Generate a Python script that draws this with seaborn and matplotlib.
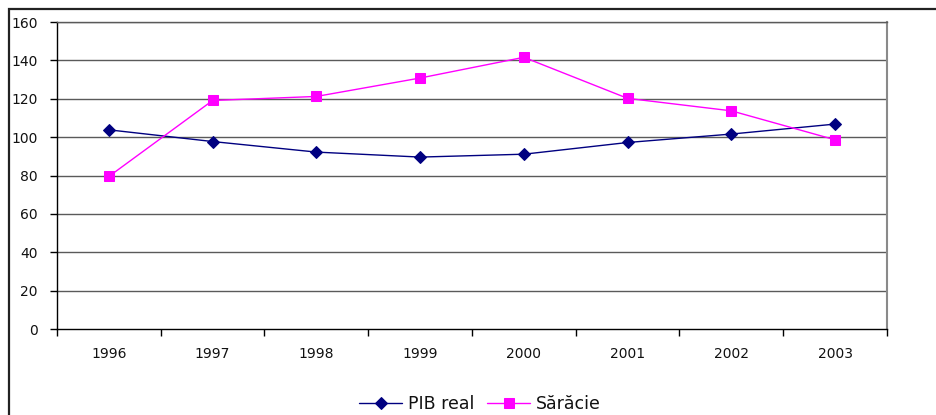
import pandas as pd
import matplotlib
matplotlib.use("Agg")
import matplotlib.pyplot as plt
import seaborn as sns
from matplotlib.patches import Rectangle

# -------------------------------------------------------------------
# Data
# -------------------------------------------------------------------
years = ["1996", "1997", "1998", "1999", "2000", "2001", "2002", "2003"]
pib_real = [103.8, 97.7, 92.2, 89.6, 91.1, 97.2, 101.6, 106.8]
saracie = [79.5, 119.1, 121.2, 130.8, 141.6, 120.2, 113.7, 98.6]
y_ticks = [0, 20, 40, 60, 80, 100, 120, 140, 160]

sns.set_theme(style="white")
plt.rcParams["font.family"] = ["DejaVu Sans"]

df = pd.DataFrame({"pos": range(len(years)), "PIB real": pib_real, "Sărăcie": saracie})

fig = plt.figure(figsize=(9.37, 4.15), dpi=100)
ax = fig.add_axes([57 / 937, 1 - 329 / 415, 830 / 937, 307 / 415])

# outer chart frame (only the left and top edges are visible)
fig.patches.append(Rectangle((9.5 / 937, -0.1), 1.2, 1 - 9.5 / 415 + 0.1,
                             transform=fig.transFigure, fill=False,
                             edgecolor="#222222", linewidth=1.6))

for y in y_ticks[1:]:
    ax.axhline(y, color="#5a5a5a", linewidth=1.0, zorder=0)

sns.lineplot(data=df, x="pos", y="PIB real", ax=ax, color="#000080",
             marker="D", markersize=6.5, markeredgecolor="#000080",
             linewidth=1.0, label="PIB real")
sns.lineplot(data=df, x="pos", y="Sărăcie", ax=ax, color="#FF00FF",
             marker="s", markersize=7, markeredgecolor="#FF00FF",
             linewidth=1.0, label="Sărăcie")

ax.set_xlim(-0.5, len(years) - 0.5)
ax.set_ylim(0, 160)
ax.set_xlabel("")
ax.set_ylabel("")

ax.set_yticks(y_ticks)
ax.set_yticklabels([str(v) for v in y_ticks], fontsize=10, color="#111111")
ax.tick_params(axis="y", which="major", direction="out", length=5, width=1,
               color="black", left=True, pad=9)

# category boundaries get tick marks, labels sit in the middle
ax.set_xticks([i - 0.5 for i in range(len(years) + 1)])
ax.set_xticklabels([])
ax.set_xticks(list(range(len(years))), minor=True)
ax.set_xticklabels(years, minor=True, fontsize=10, color="#111111")
ax.tick_params(axis="x", which="major", direction="out", length=5, width=1,
               color="black", bottom=True)
ax.tick_params(axis="x", which="minor", length=0, pad=13)

for side in ["left", "bottom"]:
    ax.spines[side].set_color("black")
    ax.spines[side].set_linewidth(1.0)
ax.spines["right"].set_color("#8a8a8a")
ax.spines["right"].set_linewidth(1.5)
ax.spines["top"].set_color("#5a5a5a")
ax.spines["top"].set_linewidth(1.0)

leg = ax.legend(loc="center", bbox_to_anchor=(480 / 937, 1 - 404 / 415),
                bbox_transform=fig.transFigure, ncol=2, frameon=False,
                fontsize=12.5, handlelength=2.5, handletextpad=0.35,
                columnspacing=0.7)
for t in leg.get_texts():
    t.set_color("#111111")

fig.savefig("out.png", dpi=100)
